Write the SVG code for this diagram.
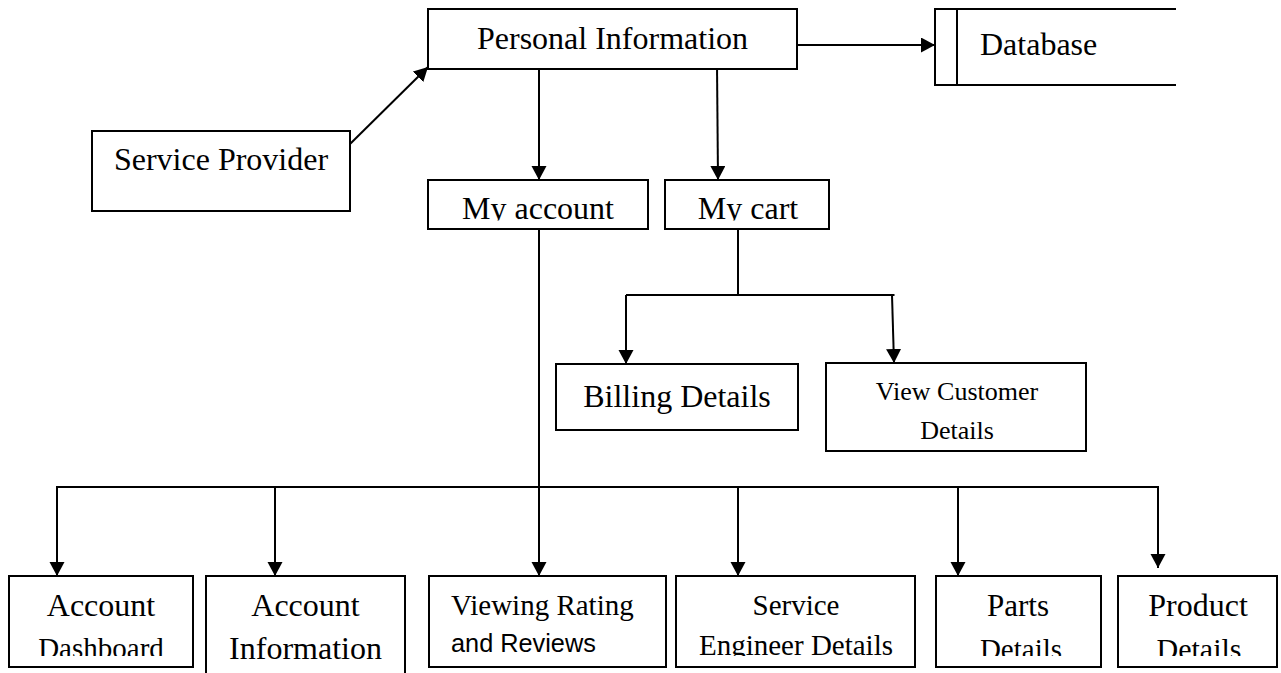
<svg xmlns="http://www.w3.org/2000/svg" width="1281" height="673" viewBox="0 0 1281 673">
<style>
.box{fill:#fff;stroke:#000;stroke-width:2}
.ln{fill:none;stroke:#000;stroke-width:2}
.t{font-family:"Liberation Serif","Times New Roman",serif;fill:#000}
.s{font-family:"Liberation Sans",Arial,sans-serif;fill:#000}
.c{text-anchor:middle}
</style>
<defs>
<marker id="arr" markerUnits="userSpaceOnUse" markerWidth="16" markerHeight="16" refX="14" refY="7.5" orient="auto">
<path d="M0,0 L14,7.5 L0,15 z" fill="#000"/>
</marker>
<clipPath id="clipTop"><rect x="0" y="0" width="1281" height="220.5"/></clipPath>
<clipPath id="clipBot"><rect x="0" y="0" width="1281" height="656"/></clipPath>
</defs>
<rect width="1281" height="673" fill="#fff"/>
<g id="connectors">
<line class="ln" x1="350" y1="144" x2="428" y2="67" marker-end="url(#arr)"/>
<line class="ln" x1="797" y1="45" x2="935" y2="45" marker-end="url(#arr)"/>
<line class="ln" x1="539" y1="69" x2="539" y2="180" marker-end="url(#arr)"/>
<line class="ln" x1="717" y1="65" x2="718" y2="180" marker-end="url(#arr)"/>
<polyline class="ln" points="738,229 738,295"/>
<polyline class="ln" points="626,295 894.5,295"/>
<line class="ln" x1="626" y1="295" x2="626" y2="364" marker-end="url(#arr)"/>
<line class="ln" x1="892" y1="295" x2="894" y2="363" marker-end="url(#arr)"/>
<line class="ln" x1="539" y1="229" x2="539" y2="576" marker-end="url(#arr)"/>
<polyline class="ln" points="57,487 1158,487"/>
<line class="ln" x1="57" y1="486" x2="57" y2="576" marker-end="url(#arr)"/>
<line class="ln" x1="275" y1="486" x2="275" y2="576" marker-end="url(#arr)"/>
<line class="ln" x1="738" y1="486" x2="738" y2="576" marker-end="url(#arr)"/>
<line class="ln" x1="958" y1="486" x2="958" y2="576" marker-end="url(#arr)"/>
<line class="ln" x1="1158" y1="486" x2="1158" y2="568" marker-end="url(#arr)"/>
</g>
<g id="personal-information">
<rect class="box" x="428" y="9" width="369" height="60"/>
<text class="t c" x="612.5" y="49" font-size="32">Personal Information</text>
</g>
<g id="database">
<polyline class="ln" points="1176,9 935,9 935,85 1176,85"/>
<line class="ln" x1="957" y1="9" x2="957" y2="85"/>
<text class="t" x="980" y="55" font-size="32">Database</text>
</g>
<g id="service-provider">
<rect class="box" x="92" y="131" width="258" height="80"/>
<text class="t c" x="221" y="170" font-size="32">Service Provider</text>
</g>
<g id="my-account">
<rect class="box" x="428" y="180" width="220" height="49"/>
<text class="t c" x="538" y="219" font-size="32" clip-path="url(#clipTop)">My account</text>
</g>
<g id="my-cart">
<rect class="box" x="665" y="180" width="164" height="49"/>
<text class="t c" x="748" y="219" font-size="32" clip-path="url(#clipTop)">My cart</text>
</g>
<g id="billing-details">
<rect class="box" x="556" y="364" width="242" height="66"/>
<text class="t c" x="677" y="407" font-size="32">Billing Details</text>
</g>
<g id="view-customer-details">
<rect class="box" x="826" y="363" width="260" height="88"/>
<text class="t c" x="957" y="400" font-size="26">View Customer</text>
<text class="t c" x="957" y="439" font-size="26">Details</text>
</g>
<g id="account-dashboard">
<rect class="box" x="9" y="576" width="184" height="91"/>
<g clip-path="url(#clipBot)">
<text class="t c" x="101" y="616" font-size="32">Account</text>
<text class="t c" x="101" y="658" font-size="29">Dashboard</text>
</g>
</g>
<g id="account-information">
<polyline class="ln" points="206,674 206,576 405,576 405,674"/>
<text class="t c" x="305.5" y="616" font-size="32">Account</text>
<text class="t c" x="305.5" y="659" font-size="32">Information</text>
</g>
<g id="viewing-rating">
<rect class="box" x="429" y="576" width="237" height="91"/>
<text class="t" x="451" y="615" font-size="29">Viewing Rating</text>
<text class="s" x="451" y="652" font-size="25.3">and Reviews</text>
</g>
<g id="service-engineer">
<rect class="box" x="676" y="576" width="239" height="91"/>
<g clip-path="url(#clipBot)">
<text class="t c" x="796" y="615" font-size="29">Service</text>
<text class="t c" x="796" y="655" font-size="29">Engineer Details</text>
</g>
</g>
<g id="parts-details">
<rect class="box" x="936" y="576" width="165" height="91"/>
<g clip-path="url(#clipBot)">
<text class="t c" x="1018" y="616" font-size="31">Parts</text>
<text class="t c" x="1021" y="659" font-size="29">Details</text>
</g>
</g>
<g id="product-details">
<rect class="box" x="1118" y="576" width="159" height="91"/>
<g clip-path="url(#clipBot)">
<text class="t c" x="1198" y="616" font-size="32">Product</text>
<text class="t c" x="1199" y="659" font-size="30">Details</text>
</g>
</g>
</svg>
